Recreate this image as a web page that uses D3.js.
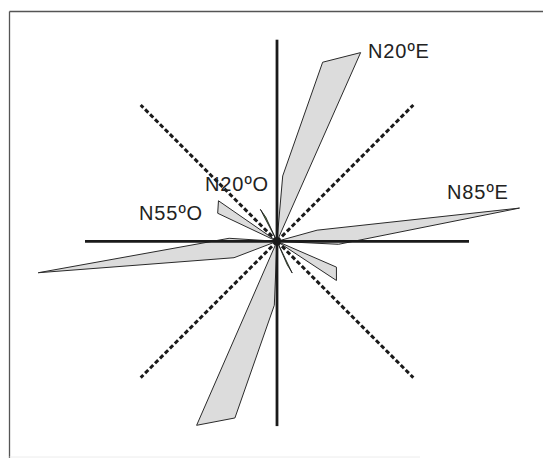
<!DOCTYPE html>
<html>
<head>
<meta charset="utf-8">
<script src="https://cdn.jsdelivr.net/npm/d3@7"></script>
<style>
  html, body { margin: 0; padding: 0; background: #fff; }
  svg { display: block; }
</style>
</head>
<body>
<script>
// ---- data (angles in degrees clockwise from north, values in frequency units) ----
const roseAngles = [0, 5.0, 14.3, 23.9, 35, 65, 74.5, 82.2, 92.8, 103, 113.5, 123.4, 135,
                    175, 182.4, 193.4, 203.6, 215, 240, 249.1, 262.5, 273.6, 285, 295.3, 304.7, 315, 355];
const roseValues = [0, 8.2, 23.1, 25.8, 0, 0, 5.2, 30.6, 7.7, 0, 8.1, 8.9, 0,
                    0, 8.0, 22.7, 25.1, 0, 0, 5.75, 30.1, 6.0, 0, 8.2, 8.9, 0, 0];
const thinAngles = [332.5, 335.0, 154.4, 156.4];
const thinValues = [4.5, 3.3, 4.4, 3.2];
const axisAngles = [0, 90, 180, 270];
const axisValues = [25.2, 24.0, 23.1, 24.0];
const diagAngles = [45, 135, 225, 315];
const diagValues = [24.1, 24.1, 24.1, 24.1];
const labelTexts = ["N20ºE", "N85ºE", "N20ºO", "N55ºO"];

// ---- layout ----
const W = 543, H = 458;
const cx = 277, cy = 241.3;
const r = d3.scaleLinear().domain([0, 30]).range([0, 240]);
const rad = d => d * Math.PI / 180;

const svg = d3.select("body").append("svg").attr("width", W).attr("height", H);

// frame
svg.append("line").attr("x1", 9.5).attr("y1", 11.5).attr("x2", W).attr("y2", 11.5)
  .attr("stroke", "#555").attr("stroke-width", 1.3);
svg.append("line").attr("x1", 9.5).attr("y1", 11.5).attr("x2", 9.5).attr("y2", H)
  .attr("stroke", "#555").attr("stroke-width", 1.3);
svg.append("line").attr("x1", 9.5).attr("y1", 457).attr("x2", 420).attr("y2", 457)
  .attr("stroke", "#ececec").attr("stroke-width", 1);

const g = svg.append("g").attr("transform", `translate(${cx},${cy})`);

// rose polygon
const rosePts = roseAngles.map((a, i) => [rad(a), roseValues[i]]);
const radial = d3.lineRadial().angle(d => d[0]).radius(d => r(d[1])).curve(d3.curveLinearClosed);
g.append("path").attr("d", radial(rosePts))
  .attr("fill", "#dcdcdc").attr("stroke", "#2a2a2a").attr("stroke-width", 1).attr("stroke-linejoin", "miter");

// thin green slivers
for (let k = 0; k < thinAngles.length; k += 2) {
  const pts = [[0, 0], [rad(thinAngles[k]), thinValues[k]], [rad(thinAngles[k + 1]), thinValues[k + 1]]];
  g.append("path").attr("d", radial(pts))
    .attr("fill", "#5fa040").attr("stroke", "#222").attr("stroke-width", 0.9);
}

// axes
const pt = (a, v) => [Math.sin(rad(a)) * r(v), -Math.cos(rad(a)) * r(v)];
diagAngles.forEach((a, i) => {
  const p = pt(a, diagValues[i]);
  g.append("line").attr("x1", 0).attr("y1", 0).attr("x2", p[0]).attr("y2", p[1])
    .attr("stroke", "#1a1a1a").attr("stroke-width", 3).attr("stroke-dasharray", "4.5,2.5");
});
axisAngles.forEach((a, i) => {
  const p = pt(a, axisValues[i]);
  g.append("line").attr("x1", 0).attr("y1", 0).attr("x2", p[0]).attr("y2", p[1])
    .attr("stroke", "#1a1a1a").attr("stroke-width", 2.8);
});

// labels
const labelPos = [[368, 58], [447, 199], [205, 191], [139, 220]];
labelTexts.forEach((t, i) => {
  svg.append("text").attr("x", labelPos[i][0]).attr("y", labelPos[i][1])
    .attr("font-family", "Liberation Sans, Arial, sans-serif").attr("font-size", 20)
    .attr("letter-spacing", 0.9).attr("fill", "#222").text(t);
});
</script>
</body>
</html>
